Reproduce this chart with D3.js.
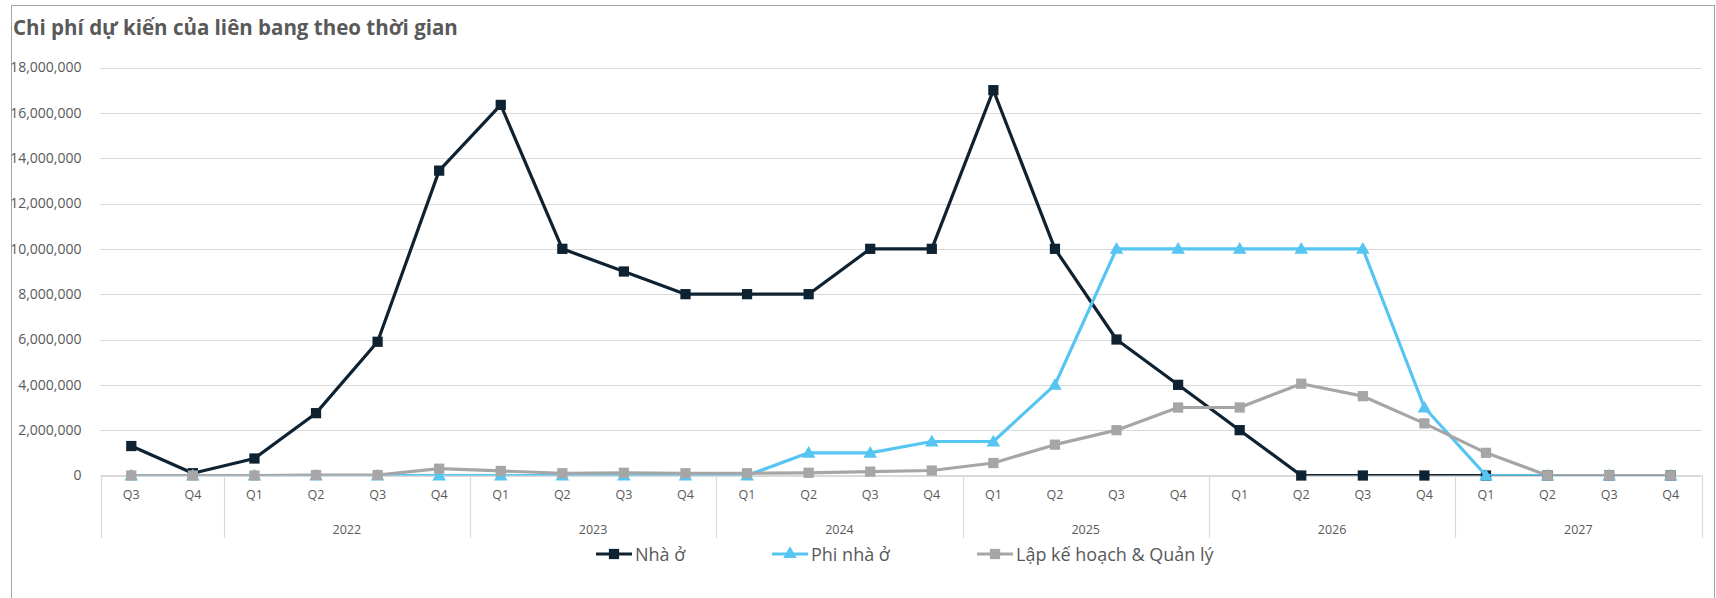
<!DOCTYPE html>
<html>
<head>
<meta charset="utf-8">
<script src="https://cdn.jsdelivr.net/npm/d3@7"></script>
<style>
  body { margin: 0; background: #fff; }
  text { font-family: "Open Sans", "Noto Sans", sans-serif; }
</style>
</head>
<body>
<svg id="chart" width="1716" height="598"></svg>
<script>
// data
var yearLabels = ["", "2022", "2023", "2024", "2025", "2026", "2027"];
var yearSpans = [2, 4, 4, 4, 4, 4, 4];
var quarters = ["Q3","Q4",
    "Q1","Q2","Q3","Q4", "Q1","Q2","Q3","Q4", "Q1","Q2","Q3","Q4",
    "Q1","Q2","Q3","Q4", "Q1","Q2","Q3","Q4", "Q1","Q2","Q3","Q4"];

var nhaO = [1300000, 100000,
    750000, 2750000, 5900000, 13450000,
    16350000, 10000000, 9000000, 8000000,
    8000000, 8000000, 10000000, 10000000,
    17000000, 10000000, 6000000, 4000000,
    2000000, 0, 0, 0,
    0, 0, 0, 0];
var phiNhaO = [0, 0,
    0, 0, 0, 0,
    0, 0, 0, 0,
    0, 1000000, 1000000, 1500000,
    1500000, 4000000, 10000000, 10000000,
    10000000, 10000000, 10000000, 3000000,
    0, 0, 0, 0];
var lapKeHoach = [0, 0,
    0, 20000, 20000, 300000,
    200000, 100000, 120000, 100000,
    100000, 120000, 170000, 220000,
    550000, 1360000, 2000000, 3000000,
    3000000, 4050000, 3500000, 2300000,
    1000000, 0, 0, 0];

var seriesNames = ["Nhà ở", "Phi nhà ở", "Lập kế hoạch & Quản lý"];
var seriesColors = ["#0e2232", "#56c5f1", "#a6a6a6"];
var seriesSymbols = [d3.symbolSquare, d3.symbolTriangle, d3.symbolSquare];
var seriesSizes = [105, 80, 105];
var seriesValues = [nhaO, phiNhaO, lapKeHoach];

var svg = d3.select("#chart");
var plotL = 100.5, plotR = 1701.5, plotT = 67.5, plotB = 475.5;

// frame
svg.append("rect")
    .attr("x", 11.5).attr("y", 5.5)
    .attr("width", 1703).attr("height", 600)
    .attr("fill", "none")
    .attr("stroke", "#a6a6a6");

svg.append("text")
    .attr("x", 13).attr("y", 35)
    .attr("font-size", 20.5)
    .attr("font-weight", "bold")
    .attr("fill", "#595959")
    .text("Chi phí dự kiến của liên bang theo thời gian");

// keys for every quarter
var keys = [];
var k = 0;
for (var g = 0; g < yearSpans.length; g++) {
    for (var j = 0; j < yearSpans[g]; j++) {
        keys.push(k + "-" + quarters[k]);
        k++;
    }
}

var x = d3.scaleBand().domain(keys).range([plotL, plotR]);
var y = d3.scaleLinear().domain([0, 18000000]).range([plotB, plotT]);
var yTicks = d3.range(0, 18000001, 2000000);

// gridlines
svg.append("g")
    .selectAll("line")
    .data(yTicks)
    .enter()
    .append("line")
    .attr("x1", plotL).attr("x2", plotR)
    .attr("y1", function(d){ return Math.round(y(d)) + 0.5; })
    .attr("y2", function(d){ return Math.round(y(d)) + 0.5; })
    .attr("stroke", "#d9d9d9")
    .attr("stroke-width", 1.2);

// y axis labels
var yAxis = svg.append("g")
    .attr("transform", "translate(" + (plotL - 16) + ",0)")
    .call(d3.axisLeft(y).tickValues(yTicks)
        .tickFormat(d3.format(",")).tickSize(0));
yAxis.select(".domain").remove();
yAxis.selectAll("text")
    .attr("font-size", 14)
    .attr("fill", "#595959")
    .attr("font-family", "Open Sans");

// x axis: quarter labels
var xAxis = svg.append("g")
    .attr("transform", "translate(0," + plotB + ")")
    .call(d3.axisBottom(x).tickSize(0).tickPadding(15)
        .tickFormat(function(d){ return d.split("-")[1]; }));
xAxis.select(".domain").remove();
xAxis.selectAll("text")
    .attr("font-size", 12.5)
    .attr("fill", "#595959")
    .attr("font-family", "Open Sans");

svg.append("line")
    .attr("x1", plotL).attr("x2", plotR)
    .attr("y1", plotB).attr("y2", plotB)
    .attr("stroke", "#d9d9d9")
    .attr("stroke-width", 1.2);

// year groups: separators and labels
var groups = [];
var start = 0;
for (var g2 = 0; g2 < yearSpans.length; g2++) {
    groups.push({label: yearLabels[g2], first: keys[start], last: keys[start + yearSpans[g2] - 1]});
    start += yearSpans[g2];
}
var sepX = [plotL].concat(groups.map(function(d){ return x(d.last) + x.bandwidth(); }));
svg.append("g")
    .selectAll("line")
    .data(sepX)
    .enter()
    .append("line")
    .attr("x1", function(d){ return Math.round(d) + 0.5; })
    .attr("x2", function(d){ return Math.round(d) + 0.5; })
    .attr("y1", plotB).attr("y2", 538)
    .attr("stroke", "#d9d9d9")
    .attr("stroke-width", 1.2);

svg.append("g")
    .selectAll("text")
    .data(groups)
    .enter()
    .append("text")
    .attr("x", function(d){ return (x(d.first) + x(d.last) + x.bandwidth()) / 2; })
    .attr("y", 534)
    .attr("text-anchor", "middle")
    .attr("font-size", 12.5)
    .attr("fill", "#595959")
    .text(function(d){ return d.label; });

// plot clip for lines (excel clips the stroke at the plot edge)
svg.append("clipPath").attr("id", "plotclip")
    .append("rect")
    .attr("x", 0).attr("y", 0)
    .attr("width", 1716).attr("height", plotB);

var line = d3.line()
    .x(function(d, i){ return x(keys[i]) + x.bandwidth() / 2; })
    .y(function(d){ return y(d); });

for (var s = 0; s < seriesValues.length; s++) {
    var sg = svg.append("g");
    sg.append("path")
        .datum(seriesValues[s])
        .attr("d", line)
        .attr("fill", "none")
        .attr("stroke", seriesColors[s])
        .attr("stroke-width", 3.2)
        .attr("stroke-linejoin", "round")
        .attr("clip-path", "url(#plotclip)");
    var isTri = seriesSymbols[s] === d3.symbolTriangle;
    sg.selectAll("path.mk")
        .data(seriesValues[s])
        .enter()
        .append("path")
        .attr("class", "mk")
        .attr("transform", function(d, i){
            return "translate(" + (x(keys[i]) + x.bandwidth() / 2) + "," + (y(d) + (isTri ? 1 : 0)) + ")";
        })
        .attr("d", d3.symbol().type(seriesSymbols[s]).size(seriesSizes[s]))
        .attr("fill", seriesColors[s]);
}

// legend
var legendX = [596, 772, 977];
var legend = svg.append("g")
    .selectAll("g")
    .data(seriesNames)
    .enter()
    .append("g")
    .attr("transform", function(d, i){ return "translate(" + legendX[i] + ",554)"; });
legend.append("line")
    .attr("x1", 0).attr("x2", 36)
    .attr("stroke", function(d, i){ return seriesColors[i]; })
    .attr("stroke-width", 3);
legend.append("path")
    .attr("transform", "translate(18,0)")
    .attr("d", function(d, i){ return d3.symbol().type(seriesSymbols[i]).size(seriesSizes[i])(); })
    .attr("fill", function(d, i){ return seriesColors[i]; });
legend.append("text")
    .attr("x", 39)
    .attr("y", 6.5)
    .attr("font-size", 18)
    .attr("fill", "#595959")
    .text(function(d){ return d; });
</script>
</body>
</html>
